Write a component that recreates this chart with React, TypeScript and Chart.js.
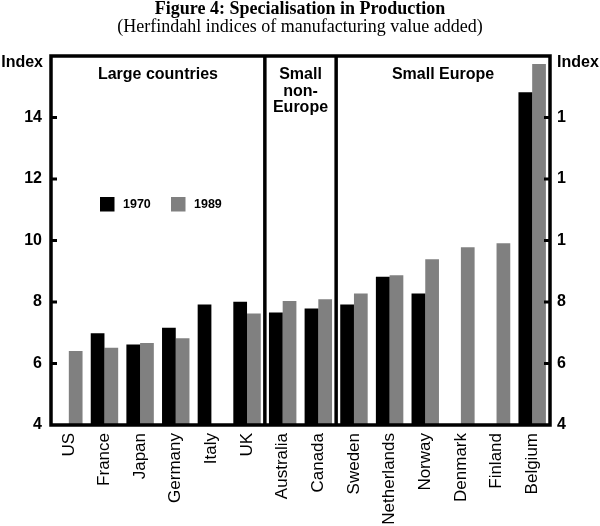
import React, { useEffect, useRef } from "react";
import { Chart, registerables } from "chart.js";

Chart.register(...registerables);

const CATEGORIES = [
  "US", "France", "Japan", "Germany", "Italy", "UK", "Australia", "Canada",
  "Sweden", "Netherlands", "Norway", "Denmark", "Finland", "Belgium",
];
const SERIES_1970 = [null, 6.98, 6.62, 7.16, 7.92, 8.01, 7.66, 7.79, 7.92, 8.82, 8.28, null, null, 14.82];
const SERIES_1989 = [6.41, 6.51, 6.67, 6.82, null, 7.63, 8.03, 8.09, 8.28, 8.87, 9.39, 9.78, 9.91, 15.74];
const SERIES_NAMES = ["1970", "1989"];
const Y_MIN = 4;
const Y_MAX = 16;
const Y_STEP = 2;
const Y_TICKS = [4, 6, 8, 10, 12, 14, 16];
const GROUPS = [
  { lines: ["Large countries"], from: 0, to: 5 },
  { lines: ["Small", "non-", "Europe"], from: 6, to: 7 },
  { lines: ["Small Europe"], from: 8, to: 13 },
];
const TITLE = "Figure 4: Specialisation in Production";
const SUBTITLE = "(Herfindahl indices of manufacturing value added)";
const AXIS_TITLE = "Index";

const BLACK = "#000000";
const GREY = "#808080";
const SANS = "'Liberation Sans', Arial, sans-serif";
const SERIF = "'Liberation Serif', 'Times New Roman', serif";

const overlay = {
  id: "overlay",
  afterDatasetsDraw(chart: any) {
    const { ctx, chartArea: a, scales } = chart;
    const xs = scales.x;
    const ys = scales.y;
    ctx.save();
    ctx.strokeStyle = BLACK;
    ctx.fillStyle = BLACK;

    // frame
    ctx.lineWidth = 3.5;
    ctx.strokeRect(a.left, a.top, a.right - a.left, a.bottom - a.top);

    // group separators + labels
    const boundary = (i: number) =>
      (xs.getPixelForValue(i) + xs.getPixelForValue(i + 1)) / 2;
    GROUPS.forEach((g, gi) => {
      const left = g.from === 0 ? a.left : boundary(g.from - 1);
      const right = g.to === CATEGORIES.length - 1 ? a.right : boundary(g.to);
      if (gi > 0) {
        ctx.lineWidth = 3.5;
        ctx.beginPath();
        ctx.moveTo(left, a.top);
        ctx.lineTo(left, a.bottom);
        ctx.stroke();
      }
      ctx.font = `bold 16px ${SANS}`;
      ctx.textAlign = "center";
      ctx.textBaseline = "middle";
      g.lines.forEach((ln, li) => {
        ctx.fillText(ln, (left + right) / 2, a.top + 19 + li * 16.5);
      });
    });

    // inward tick marks
    ctx.lineWidth = 3;
    Y_TICKS.forEach((t) => {
      if (t === Y_MIN || t === Y_MAX) return;
      const py = ys.getPixelForValue(t);
      ctx.beginPath();
      ctx.moveTo(a.left, py);
      ctx.lineTo(a.left + 6, py);
      ctx.moveTo(a.right - 6, py);
      ctx.lineTo(a.right, py);
      ctx.stroke();
    });

    // axis titles
    ctx.font = `bold 16px ${SANS}`;
    ctx.textBaseline = "middle";
    ctx.textAlign = "right";
    ctx.fillText(AXIS_TITLE, a.left - 8, a.top + 7);
    ctx.textAlign = "left";
    ctx.fillText(AXIS_TITLE, a.right + 7, a.top + 7);

    // legend
    const colors = [BLACK, GREY];
    const lx = [a.left + 49, a.left + 120];
    const ly = a.top + 148;
    ctx.font = `bold 12.5px ${SANS}`;
    ctx.textAlign = "left";
    SERIES_NAMES.forEach((n, i) => {
      ctx.fillStyle = colors[i];
      ctx.fillRect(lx[i], ly - 7, 14.5, 14.5);
      ctx.fillStyle = BLACK;
      ctx.fillText(n, lx[i] + 23, ly + 0.5);
    });
    ctx.restore();
  },
};

export default function App() {
  const ref = useRef<HTMLCanvasElement | null>(null);
  useEffect(() => {
    document.body.style.margin = "0";
    if (!ref.current) return;
    const chart = new Chart(ref.current, {
      type: "bar",
      data: {
        labels: CATEGORIES,
        datasets: [
          { label: SERIES_NAMES[0], data: SERIES_1970 as any, backgroundColor: BLACK, borderWidth: 0 },
          { label: SERIES_NAMES[1], data: SERIES_1989 as any, backgroundColor: GREY, borderWidth: 0 },
        ],
      },
      options: {
        animation: false,
        responsive: false,
        devicePixelRatio: 1,
        layout: { padding: 0 },
        datasets: { bar: { barPercentage: 1, categoryPercentage: 0.77 } },
        plugins: {
          legend: { display: false },
          tooltip: { enabled: false },
          title: {
            display: true,
            text: TITLE,
            color: BLACK,
            font: { family: SERIF, size: 18, weight: "bold", lineHeight: 1 },
            padding: { top: 0, bottom: 0 },
          },
          subtitle: {
            display: true,
            text: SUBTITLE,
            color: BLACK,
            font: { family: SERIF, size: 18, weight: "normal", lineHeight: 1 },
            padding: { top: 0, bottom: 20 },
          },
        },
        scales: {
          x: {
            grid: { display: false, drawTicks: false },
            border: { display: false },
            ticks: {
              autoSkip: false,
              maxRotation: 90,
              minRotation: 90,
              padding: 8,
              color: BLACK,
              font: { family: SANS, size: 17 },
            },
            afterFit: (s: any) => { s.height = 101; },
          },
          y: {
            position: "left",
            min: Y_MIN,
            max: Y_MAX,
            grid: { display: false, drawTicks: false },
            border: { display: false },
            ticks: {
              stepSize: Y_STEP,
              padding: 9,
              color: BLACK,
              font: { family: SANS, size: 16, weight: "bold" },
              callback: (v: any) => (v === Y_MAX ? "" : String(v)),
            },
            afterFit: (s: any) => { s.width = 51; },
          },
          y2: {
            position: "right",
            min: Y_MIN,
            max: Y_MAX,
            grid: { display: false, drawTicks: false },
            border: { display: false },
            ticks: {
              stepSize: Y_STEP,
              padding: 7,
              color: BLACK,
              font: { family: SANS, size: 16, weight: "bold" },
              callback: (v: any) => (v === Y_MAX ? "" : v >= 10 ? String(v).charAt(0) : String(v)),
            },
            afterFit: (s: any) => { s.width = 50; },
          },
        },
      },
      plugins: [overlay],
    });
    return () => chart.destroy();
  }, []);
  return (
    <div style={{ width: 600, height: 526, background: "#fff" }}>
      <canvas ref={ref} width={600} height={526} style={{ width: 600, height: 526, display: "block" }} />
    </div>
  );
}
